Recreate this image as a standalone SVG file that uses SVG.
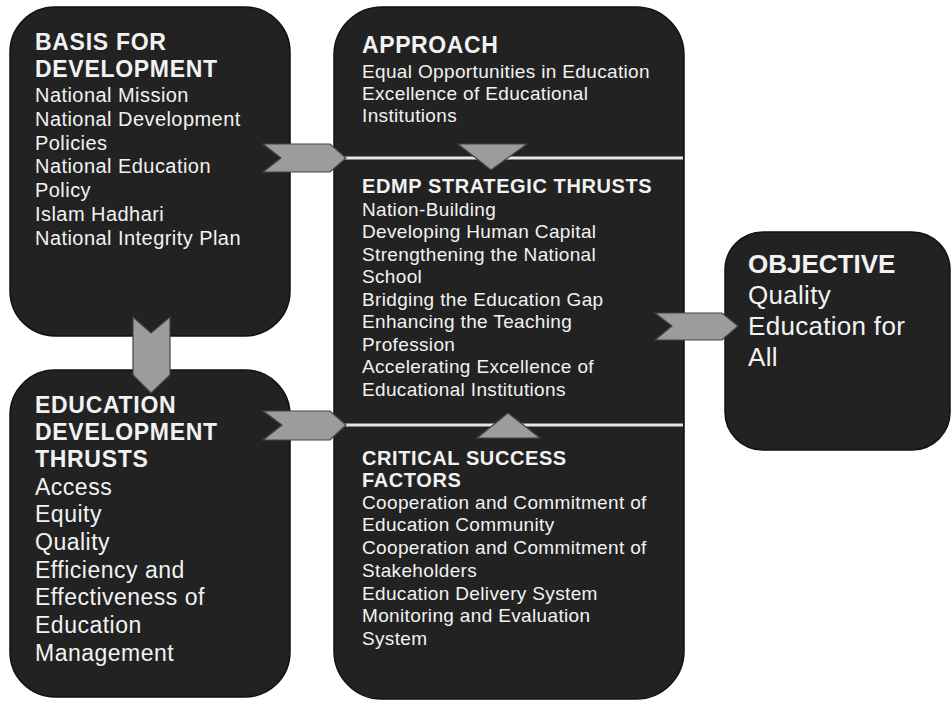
<svg xmlns="http://www.w3.org/2000/svg" width="952" height="703" viewBox="0 0 952 703">
<style>
.box{fill:#222222;stroke:#111111;stroke-width:1.5}
.t{font-family:"Liberation Sans",Arial,sans-serif;fill:#f2f2f2}
.h{font-weight:bold;font-size:23px;letter-spacing:0.7px}
.hm{font-weight:bold;font-size:20px;letter-spacing:0.6px}
.i20{font-size:20px;letter-spacing:0.45px}
.i19{font-size:19px;letter-spacing:0.35px}
.i23{font-size:23px;letter-spacing:0.5px}
.arr{fill:#9c9c9c;stroke:#444444;stroke-width:1.2}
.div{stroke:#e6e6e6;stroke-width:3}
</style>
<rect width="952" height="703" fill="#ffffff"/>

<g id="basis">
<rect class="box" x="10" y="7" width="280" height="329" rx="45"/>
<text class="t h" x="35" y="50">BASIS FOR</text>
<text class="t h" x="35" y="77">DEVELOPMENT</text>
<text class="t i20" x="35" y="102">National Mission</text>
<text class="t i20" x="35" y="126">National Development</text>
<text class="t i20" x="35" y="150">Policies</text>
<text class="t i20" x="35" y="173">National Education</text>
<text class="t i20" x="35" y="197">Policy</text>
<text class="t i20" x="35" y="221">Islam Hadhari</text>
<text class="t i20" x="35" y="245">National Integrity Plan</text>
</g>

<g id="edu-thrusts">
<rect class="box" x="10" y="370" width="280" height="327" rx="45"/>
<text class="t h" x="35" y="413">EDUCATION</text>
<text class="t h" x="35" y="440">DEVELOPMENT</text>
<text class="t h" x="35" y="467">THRUSTS</text>
<text class="t i23" x="35" y="495">Access</text>
<text class="t i23" x="35" y="522">Equity</text>
<text class="t i23" x="35" y="550">Quality</text>
<text class="t i23" x="35" y="578">Efficiency and</text>
<text class="t i23" x="35" y="605">Effectiveness of</text>
<text class="t i23" x="35" y="633">Education</text>
<text class="t i23" x="35" y="661">Management</text>
</g>

<g id="middle">
<rect class="box" x="334" y="7" width="350" height="692" rx="48"/>
<line class="div" x1="335" y1="158" x2="683" y2="158"/>
<line class="div" x1="335" y1="425" x2="683" y2="425"/>
</g>

<g id="approach">
<text class="t" x="362" y="53" font-weight="bold" font-size="23px" letter-spacing="0.6px">APPROACH</text>
<text class="t i19" x="362" y="78">Equal Opportunities in Education</text>
<text class="t i19" x="362" y="100">Excellence of Educational</text>
<text class="t i19" x="362" y="122">Institutions</text>
</g>

<g id="edmp">
<text class="t hm" x="362" y="193">EDMP STRATEGIC THRUSTS</text>
<text class="t i19" x="362" y="216">Nation-Building</text>
<text class="t i19" x="362" y="238">Developing Human Capital</text>
<text class="t i19" x="362" y="261">Strengthening the National</text>
<text class="t i19" x="362" y="283">School</text>
<text class="t i19" x="362" y="306">Bridging the Education Gap</text>
<text class="t i19" x="362" y="328">Enhancing the Teaching</text>
<text class="t i19" x="362" y="351">Profession</text>
<text class="t i19" x="362" y="373">Accelerating Excellence of</text>
<text class="t i19" x="362" y="396">Educational Institutions</text>
</g>

<g id="csf">
<text class="t hm" x="362" y="465">CRITICAL SUCCESS</text>
<text class="t hm" x="362" y="487">FACTORS</text>
<text class="t i19" x="362" y="509">Cooperation and Commitment of</text>
<text class="t i19" x="362" y="531">Education Community</text>
<text class="t i19" x="362" y="554">Cooperation and Commitment of</text>
<text class="t i19" x="362" y="577">Stakeholders</text>
<text class="t i19" x="362" y="600">Education Delivery System</text>
<text class="t i19" x="362" y="622">Monitoring and Evaluation</text>
<text class="t i19" x="362" y="645">System</text>
</g>

<g id="objective">
<rect class="box" x="725" y="232" width="225" height="218" rx="38"/>
<text class="t" x="748" y="273" font-weight="bold" font-size="26px">OBJECTIVE</text>
<text class="t" x="748" y="304" font-size="26px" letter-spacing="0.3px">Quality</text>
<text class="t" x="748" y="335" font-size="26px" letter-spacing="0.3px">Education for</text>
<text class="t" x="748" y="366" font-size="26px" letter-spacing="0.3px">All</text>
</g>

<g id="connectors">
<polygon class="arr" points="263,144 330,144 346,158 330,172 263,172 281,158"/>
<polygon class="arr" points="263,411 330,411 346,425 330,440 263,440 282,425"/>
<polygon class="arr" points="133,317 151,333 170,317 170,375 151,393 133,375"/>
<polygon class="arr" points="655,313 722,313 738,326 722,340 655,340 672,326"/>
<polygon class="arr" points="458,144 527,144 491,170"/>
<polygon class="arr" points="477,438 540,438 508,413"/>
</g>
</svg>
